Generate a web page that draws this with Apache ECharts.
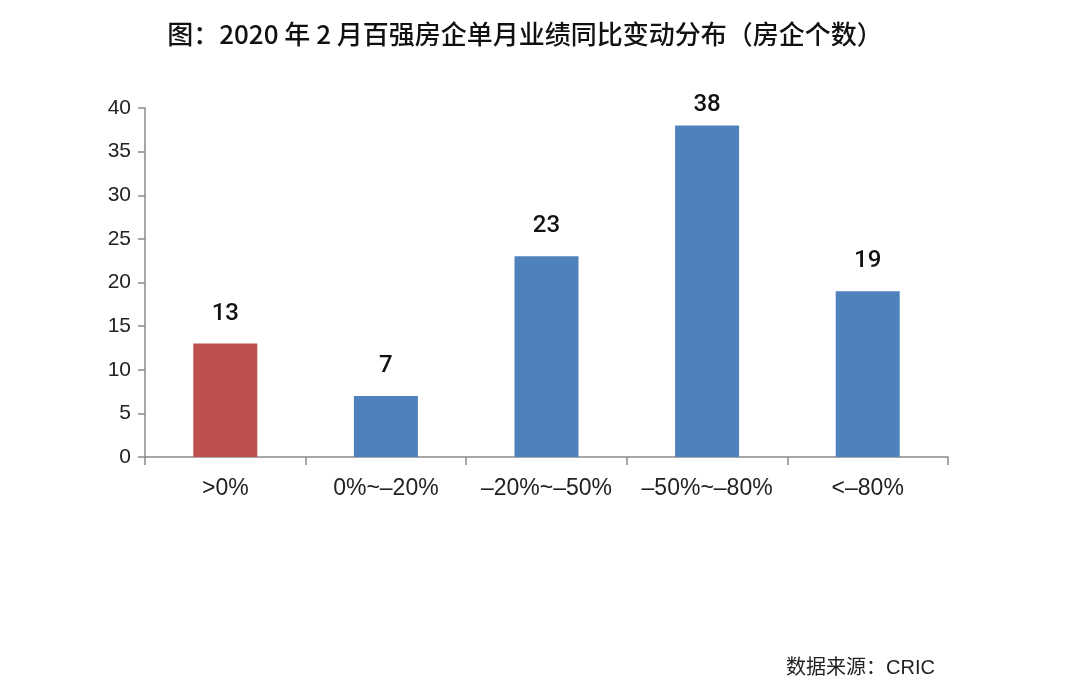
<!DOCTYPE html>
<html><head><meta charset="utf-8">
<script src="https://cdn.jsdelivr.net/npm/echarts@6/dist/echarts.min.js"></script>
<style>html,body{margin:0;padding:0;background:#fff}#c{width:1080px;height:690px}</style>
</head><body><div id="c"></div>
<script>
const categories = ['>0%', '0%~–20%', '–20%~–50%', '–50%~–80%', '<–80%'];
const values = [13, 7, 23, 38, 19];
const barColors = ['#C0504D', '#4F81BD', '#4F81BD', '#4F81BD', '#4F81BD'];
const titleText = '图：2020 年 2 月百强房企单月业绩同比变动分布（房企个数）';
const sourceText = '数据来源：CRIC';

const chart = echarts.init(document.getElementById('c'));
chart.setOption({
  backgroundColor: '#fff',
  animation: false,
  title: [{
    text: titleText, left: 520, top: 16, textAlign: 'center',
    textStyle: {fontFamily: 'Noto Sans CJK SC', fontSize: 26, fontWeight: 500, color: '#111'}
  }, {
    text: sourceText, right: 140, top: 653,
    textStyle: {fontFamily: 'Liberation Sans, Noto Sans CJK SC', fontSize: 20, fontWeight: 'normal', color: '#222'}
  }],
  grid: {left: 145, right: 132, top: 108, bottom: 233, containLabel: false},
  xAxis: {
    type: 'category', data: categories,
    axisLine: {lineStyle: {color: '#8a8a8a', width: 1.5}},
    axisTick: {show: true, length: 8, lineStyle: {color: '#8a8a8a', width: 1.5}},
    axisLabel: {interval: 0, hideOverlap: false, fontFamily: 'Liberation Sans', fontSize: 23, color: '#222', margin: 20}
  },
  yAxis: {
    type: 'value', min: 0, max: 40, interval: 5,
    axisLine: {show: true, lineStyle: {color: '#8a8a8a', width: 1.5}},
    axisTick: {show: true, inside: false, length: 7, lineStyle: {color: '#8a8a8a', width: 1.5}},
    splitLine: {show: false},
    axisLabel: {fontFamily: 'Liberation Sans', fontSize: 21, color: '#222', margin: 14}
  },
  series: [{
    type: 'bar', barWidth: 64,
    data: values.map((v, i) => {
      const d = {value: v, itemStyle: {color: barColors[i]}};
      if (v === Math.max(...values)) d.label = {distance: 8};
      return d;
    }),
    label: {show: true, position: 'top', distance: 18, fontFamily: 'Roboto', fontSize: 24, fontWeight: 500, color: '#111'}
  }]
});
</script></body></html>
